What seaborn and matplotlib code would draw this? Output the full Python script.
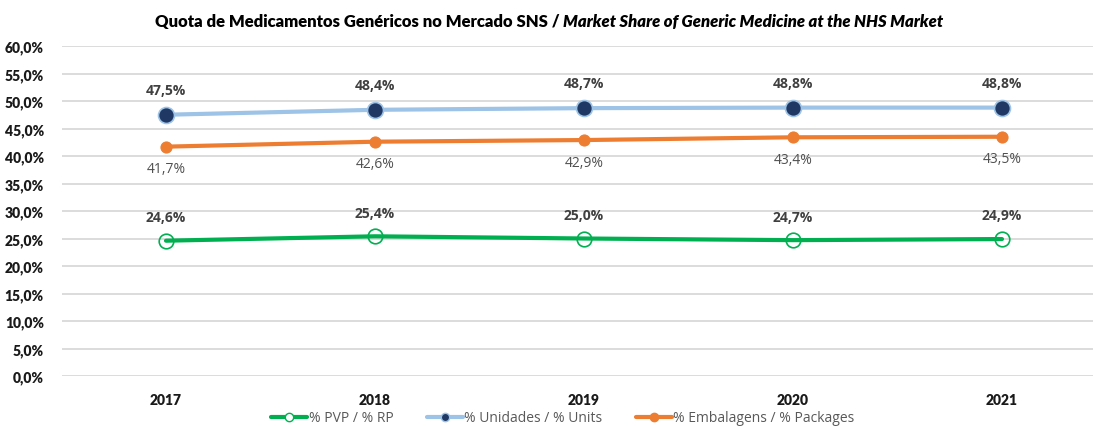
import matplotlib
matplotlib.use("Agg")
import matplotlib.pyplot as plt
import seaborn as sns
import pandas as pd
from matplotlib.lines import Line2D

years = ["2017", "2018", "2019", "2020", "2021"]
pvp = [24.6, 25.4, 25.0, 24.7, 24.9]
unidades = [47.5, 48.4, 48.7, 48.8, 48.8]
embalagens = [41.7, 42.6, 42.9, 43.4, 43.5]
labels = ["% PVP / % RP", "% Unidades / % Units", "% Embalagens / % Packages"]
yticks = [0, 5, 10, 15, 20, 25, 30, 35, 40, 45, 50, 55, 60]

sns.set_theme(style="white")
plt.rcParams['font.family'] = ['Lato', 'DejaVu Sans']

fig = plt.figure(figsize=(10.93, 4.27), dpi=100)
ax = fig.add_axes([62/1093, 1-377/427, 1-62/1093, (377-47)/427])

x = list(range(len(years)))
df = pd.DataFrame({"x": x * 3,
                   "v": pvp + unidades + embalagens,
                   "s": [labels[0]] * 5 + [labels[1]] * 5 + [labels[2]] * 5})

green = "#00B050"
lblue = "#9DC3E6"
navy = "#1F3864"
orange = "#ED7D31"
txt = "#404040"

sns.lineplot(data=df[df.s == labels[0]], x="x", y="v", ax=ax, color=green, lw=3.0,
             marker="o", markersize=10.5, markerfacecolor="none", markeredgecolor=green,
             markeredgewidth=1.2, legend=False, zorder=3)
sns.lineplot(data=df[df.s == labels[1]], x="x", y="v", ax=ax, color=lblue, lw=3.0,
             marker="o", markersize=11.5, markerfacecolor=navy, markeredgecolor=lblue,
             markeredgewidth=1.2, legend=False, zorder=3)
sns.lineplot(data=df[df.s == labels[2]], x="x", y="v", ax=ax, color=orange, lw=3.0,
             marker="o", markersize=8, markerfacecolor=orange, markeredgecolor=orange,
             legend=False, zorder=3)

def fmt(v):
    return f"{v:.1f}%".replace(".", ",")

lab_font = ['Open Sans', 'DejaVu Sans']
for i in x:
    ax.annotate(fmt(pvp[i]), (i, pvp[i]), xytext=(0, 17), textcoords="offset points",
                ha="center", va="center", fontsize=10, fontweight="bold", color=txt, family=lab_font)
    ax.annotate(fmt(unidades[i]), (i, unidades[i]), xytext=(0, 18), textcoords="offset points",
                ha="center", va="center", fontsize=10, fontweight="bold", color=txt, family=lab_font)
    ax.annotate(fmt(embalagens[i]), (i, embalagens[i]), xytext=(0, -16), textcoords="offset points",
                ha="center", va="center", fontsize=10, color="#505050", family=lab_font)

ax.set_xlim(-0.4976, -0.4976 + 1031/209)
ax.set_ylim(0, 60)
ax.set_yticks(yticks)
ax.set_yticklabels([f"{t:.1f}%".replace(".", ",") for t in yticks], fontweight="heavy", fontsize=10, color="#1a1a1a")
ax.set_xticks(x)
ax.set_xticklabels(years, fontweight="heavy", fontsize=10, color="#1a1a1a")
ax.tick_params(axis="y", pad=13, length=0)
ax.tick_params(axis="x", pad=12, length=0)
ax.set_xlabel("")
ax.set_ylabel("")
ax.grid(axis="y", color="#D9D9D9", lw=1.3)
ax.set_axisbelow(True)
for s in ax.spines.values():
    s.set_visible(False)

t1 = fig.text(0, 1-22/427, "Quota de Medicamentos Genéricos no Mercado SNS / ", va="center",
              fontsize=12, fontweight="heavy", color="black")
t2 = fig.text(0, 1-22/427, "Market Share of Generic Medicine at the NHS Market", va="center",
              fontsize=12, fontweight="heavy", style="italic", color="black")
fig.canvas.draw()
r = fig.canvas.get_renderer()
w1 = t1.get_window_extent(r).width
w2 = t2.get_window_extent(r).width
center = 549
start = center - (w1 + w2) / 2
t1.set_x(start / 1093)
t2.set_x((start + w1) / 1093)

handles = [
    Line2D([], [], color=green, lw=3.0, marker="o", markersize=6, markerfacecolor="white", markeredgecolor=green),
    Line2D([], [], color=lblue, lw=3.0, marker="o", markersize=6, markerfacecolor=navy, markeredgecolor=lblue),
    Line2D([], [], color=orange, lw=3.0, marker="o", markersize=6, markerfacecolor=orange),
]
fig.legend(handles, labels, loc="center", bbox_to_anchor=(563/1093, 1-419/427), ncol=3, frameon=False,
           prop={'family': lab_font, 'size': 10}, labelcolor="#595959", handlelength=2.6,
           handletextpad=0.1, columnspacing=2.4)

fig.savefig("out.png", dpi=100)
